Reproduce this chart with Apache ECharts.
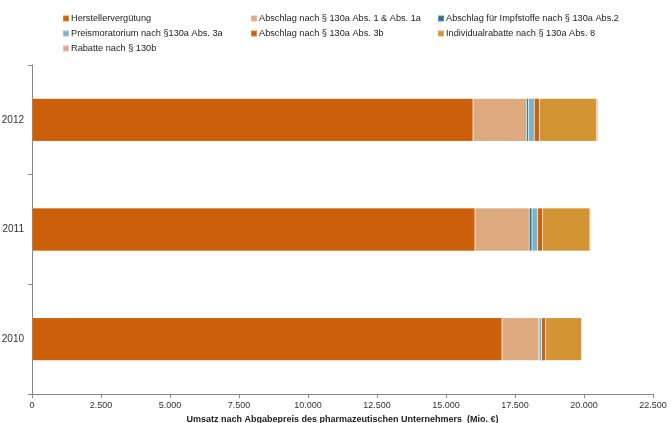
<!DOCTYPE html>
<html>
<head>
<meta charset="utf-8">
<script src="https://cdn.jsdelivr.net/npm/echarts@6/dist/echarts.min.js"></script>
<style>
  html, body { margin: 0; padding: 0; background: #fff; }
  #chart { width: 671px; height: 423px; }
</style>
</head>
<body>
<div id="chart"></div>
<script>
// Jahre (von unten nach oben)
const years = ['2010', '2011', '2012'];

// Umsatzanteile in Mio. € je Jahr
const herstellerverguetung = [17030, 16050, 15980];
const abschlag130aAbs1 = [1340, 1965, 1930];
const abschlagImpfstoffe = [0, 98, 72];
const preismoratorium = [98, 206, 217];
const abschlag130aAbs3b = [145, 181, 181];
const individualrabatte = [1304, 1714, 2080];
const rabatte130b = [0, 36, 47];

const xTicks = { min: 0, max: 22500, interval: 2500 };

const seriesDefs = [
  { name: 'Herstellervergütung', data: herstellerverguetung, color: '#CC5F0A' },
  { name: 'Abschlag nach § 130a Abs. 1 & Abs. 1a', data: abschlag130aAbs1, color: '#DDA97F' },
  { name: 'Abschlag für Impfstoffe nach § 130a Abs.2', data: abschlagImpfstoffe, color: '#2E7486' },
  { name: 'Preismoratorium nach §130a Abs. 3a', data: preismoratorium, color: '#7FB2C5' },
  { name: 'Abschlag nach § 130a Abs. 3b', data: abschlag130aAbs3b, color: '#CC5F0A' },
  { name: 'Individualrabatte nach § 130a Abs. 8', data: individualrabatte, color: '#D29433' },
  { name: 'Rabatte nach § 130b', data: rabatte130b, color: '#E6A78A' }
];

const fontFamily = 'Liberation Sans, Arial, sans-serif';

function legendColumn(left, names) {
  return {
    orient: 'vertical',
    left: left,
    top: 9,
    itemWidth: 6,
    itemHeight: 6,
    itemGap: 6,
    icon: 'rect',
    selectedMode: false,
    textStyle: { fontSize: 9.2, color: '#222', fontFamily: fontFamily, padding: [0, 0, 0, -3] },
    data: names
  };
}

const chart = echarts.init(document.getElementById('chart'), null, { renderer: 'canvas' });

chart.setOption({
  animation: false,
  textStyle: { fontFamily: fontFamily },
  legend: [
    legendColumn(57, [seriesDefs[0].name, seriesDefs[3].name, seriesDefs[6].name]),
    legendColumn(245, [seriesDefs[1].name, seriesDefs[4].name]),
    legendColumn(432, [seriesDefs[2].name, seriesDefs[5].name])
  ],
  grid: { left: 32, right: 18, top: 65, bottom: 29, containLabel: false, outerBoundsMode: 'none' },
  xAxis: {
    type: 'value',
    min: xTicks.min,
    max: xTicks.max,
    interval: xTicks.interval,
    name: 'Umsatz nach Abgabepreis des pharmazeutischen Unternehmers  (Mio. €)',
    nameLocation: 'middle',
    nameGap: 21,
    nameTextStyle: { fontSize: 9, fontWeight: 'bold', color: '#222', fontFamily: fontFamily },
    axisLine: { show: true, lineStyle: { color: '#888', width: 1 } },
    axisTick: { show: true, length: 4, lineStyle: { color: '#888' } },
    axisLabel: {
      fontSize: 9, color: '#333', margin: 7,
      formatter: v => v.toLocaleString('de-DE')
    },
    splitLine: { show: false }
  },
  yAxis: {
    type: 'category',
    data: years,
    axisLine: { show: true, lineStyle: { color: '#888', width: 1 } },
    axisTick: { show: true, length: 4, alignWithLabel: false, lineStyle: { color: '#888' } },
    axisLabel: { fontSize: 10, color: '#333', margin: 8 },
    splitLine: { show: false }
  },
  series: seriesDefs.map(s => ({
    type: 'bar',
    name: s.name,
    stack: 'umsatz',
    data: s.data,
    barWidth: 43,
    itemStyle: { color: s.color, borderColor: 'rgba(255,255,255,0.25)', borderWidth: 0.6 },
    emphasis: { disabled: true }
  }))
});
</script>
</body>
</html>
